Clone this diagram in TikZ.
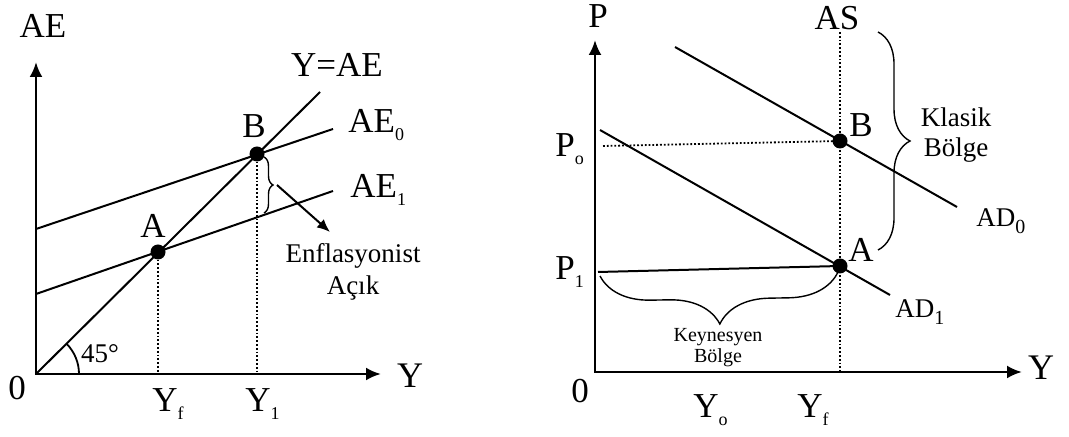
\documentclass[tikz,border=0pt]{standalone}
\usepackage{fontspec}
\setmainfont{Liberation Serif}
\usetikzlibrary{arrows.meta,decorations.pathreplacing}
\newcommand{\lowsub}[1]{\raisebox{-4pt}{\fontsize{9}{9}\selectfont #1}}
\newcommand{\adsub}[1]{\raisebox{-3.5pt}{\fontsize{10}{10}\selectfont #1}}

\begin{document}
\begin{tikzpicture}[x=0.5pt,y=0.5pt,
        axis/.style={line width=1.3pt,{Latex[length=7.5pt,width=6.5pt]}-{Latex[length=7.5pt,width=6.5pt]}},
        curve/.style={line width=1pt},
        guide/.style={line width=0.9pt,dash pattern=on 0.9pt off 1pt},
        dot/.style={circle,fill,inner sep=0pt,minimum size=7.5pt},
        biglabel/.style={font=\fontsize{17.5}{19}\selectfont,inner sep=0pt},
        midlabel/.style={font=\fontsize{13.5}{15}\selectfont,inner sep=0pt},
        smalllabel/.style={font=\fontsize{10}{11}\selectfont,inner sep=0pt},
        bracestyle/.style={line width=0.7pt,decorate,decoration={brace,amplitude=#1}}]
        \useasboundingbox (0,0) rectangle (1069,-437);
        % left: AE diagram
        \coordinate (O1) at (36,-374);
        \coordinate (AEtop) at (36,-62);
        \coordinate (Yend1) at (381,-374);
        \draw[axis] (AEtop) -- (O1) -- (Yend1);
        \coordinate (YAEend) at (320,-92);
        \coordinate (AE0s) at (36,-229);
        \coordinate (AE0e) at (333,-129);
        \coordinate (AE1s) at (36,-294);
        \coordinate (AE1e) at (333,-191);
        \draw[curve] (O1) -- (YAEend);
        \draw[curve] (AE0s) -- (AE0e);
        \draw[curve] (AE1s) -- (AE1e);
        \node[dot] (A1) at (158,-252) {};
        \node[dot] (B1) at (257,-154) {};
        \draw[guide] (A1.center) -- (A1 |- O1);
        \draw[guide] (B1.center) -- (B1 |- O1);
        \draw[line width=0.9pt] ([shift={(43,0)}]O1) arc[start angle=0,end angle=45,radius=43];
        \draw[bracestyle=4.5pt] (264,-157) -- (264,-213);
        \coordinate (gapTip) at (277,-185);
        \coordinate (gapEnd) at (330,-232);
        \draw[line width=1pt,-{Latex[length=6.5pt,width=5.5pt]}] (gapTip) -- (gapEnd);
        \node[biglabel,anchor=base] (AElab) at (43,-38) {AE};
        \node[biglabel,anchor=base] (YAElab) at (337,-77) {Y=AE};
        \node[biglabel,anchor=base west] (AE0lab) at (348,-133) {AE\lowsub{0}};
        \node[biglabel,anchor=base west] (AE1lab) at (350,-198) {AE\lowsub{1}};
        \node[biglabel,anchor=base] (B1lab) at (254,-138) {B};
        \node[biglabel,anchor=base] (A1lab) at (153,-238) {A};
        \node[biglabel,anchor=base] (zero1) at (17,-400) {0};
        \node[biglabel,font=\fontsize{18}{20}\selectfont,anchor=base] (Y1lab) at (410,-388) {Y};
        \node[midlabel,anchor=base] (angle) at (100,-363) {45°};
        \node[biglabel,anchor=base west] (Yflab1) at (152,-412) {Y\lowsub{f}};
        \node[biglabel,anchor=base west] (Yonelab) at (245,-412) {Y\lowsub{1}};
        \node[midlabel,anchor=base] (gap1) at (353,-263) {Enflasyonist};
        \node[midlabel,anchor=base] (gap2) at (353,-295) {Açık};
        % right: AD-AS diagram
        \coordinate (O2) at (595,-372);
        \coordinate (Ptop) at (595,-40);
        \coordinate (Yend2) at (1022,-372);
        \draw[axis] (Ptop) -- (O2) -- (Yend2);
        \coordinate (AStop) at (840,-32);
        \draw[guide] (AStop) -- (AStop |- O2);
        \coordinate (AD0s) at (675,-47);
        \coordinate (AD0e) at (957,-207);
        \coordinate (AD1s) at (600,-130);
        \coordinate (AD1e) at (890,-295);
        \draw[curve] (AD0s) -- (AD0e);
        \draw[curve] (AD1s) -- (AD1e);
        \node[dot] (B2) at (840,-141) {};
        \node[dot] (A2) at (840,-266) {};
        \coordinate (P0s) at (603,-146);
        \coordinate (P1s) at (598,-272);
        \draw[guide] (P0s) -- (B2.center);
        \draw[curve] (P1s) -- (A2.center);
        \draw[bracestyle=16pt] (878,-32) -- (878,-250);
        \draw[bracestyle=25pt] (838,-272) -- (600,-276);
        \node[biglabel,anchor=base] (Plab) at (598,-28) {P};
        \node[biglabel,anchor=base] (ASlab) at (837,-30) {AS};
        \node[biglabel,anchor=base west] (P0lab) at (555,-157) {P\lowsub{o}};
        \node[biglabel,anchor=base west] (P1lab) at (555,-280) {P\lowsub{1}};
        \node[biglabel,anchor=base] (B2lab) at (861,-137) {B};
        \node[biglabel,anchor=base] (A2lab) at (861,-262) {A};
        \node[midlabel,anchor=base west] (AD0lab) at (976,-227) {AD\adsub{0}};
        \node[midlabel,anchor=base west] (AD1lab) at (895,-318) {AD\adsub{1}};
        \node[midlabel,anchor=base] (klasik1) at (956,-127) {Klasik};
        \node[midlabel,anchor=base] (klasik2) at (956,-157) {Bölge};
        \node[smalllabel,anchor=base] (keyn1) at (718,-342) {Keynesyen};
        \node[smalllabel,anchor=base] (keyn2) at (718,-363) {Bölge};
        \node[biglabel,anchor=base] (zero2) at (580,-402) {0};
        \node[biglabel,font=\fontsize{18}{20}\selectfont,anchor=base] (Y2lab) at (1041,-380) {Y};
        \node[biglabel,anchor=base west] (Yolab) at (693,-417) {Y\lowsub{o}};
        \node[biglabel,anchor=base west] (Yflab2) at (797,-417) {Y\lowsub{f}};
    \end{tikzpicture}
\end{document}
